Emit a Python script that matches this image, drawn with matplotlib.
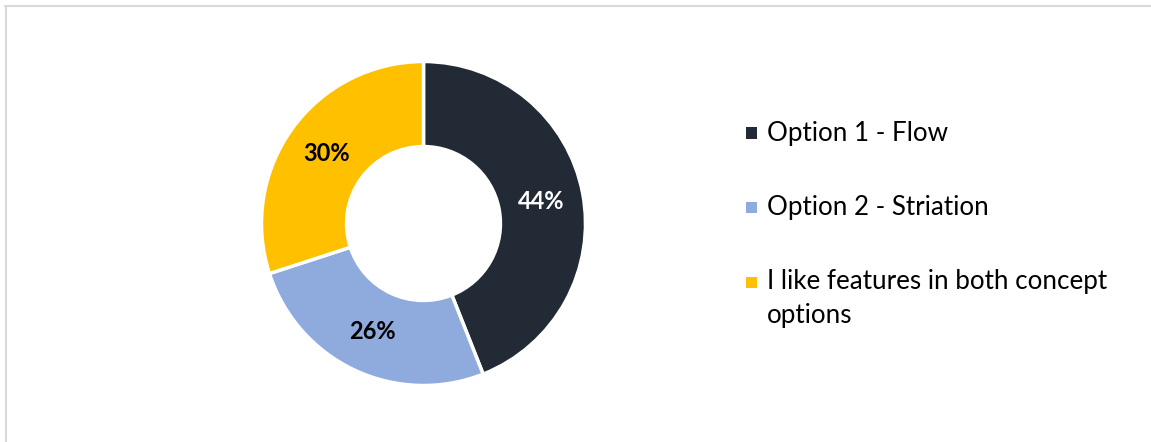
import matplotlib
matplotlib.use("Agg")
import matplotlib.pyplot as plt
from matplotlib.lines import Line2D
from matplotlib.patches import Rectangle

# survey answers
labels = ["Option 1 - Flow", "Option 2 - Striation",
          "I like features in both concept\noptions"]
shares = [44, 26, 30]
colors = ["#222a35", "#8faadc", "#ffc000"]
label_colors = ["white", "black", "black"]

W, H = 1151, 442
fig = plt.figure(figsize=(W / 100, H / 100), dpi=100)
plt.rcParams['font.family'] = ['Lato', 'DejaVu Sans']

# donut placed by pixel centre/radius
cx, cy, r = 423.5, 223.5, 162
ax = fig.add_axes([(cx - r) / W, (H - cy - r) / H, 2 * r / W, 2 * r / H])
wedges, _, autotexts = ax.pie(
    shares, colors=colors, startangle=90, counterclock=False, radius=1,
    autopct=lambda p: f"{p:.0f}%", pctdistance=0.74,
    wedgeprops=dict(width=0.525, edgecolor="white", linewidth=2.5),
)
for t, c in zip(autotexts, label_colors):
    t.set_color(c)
    t.set_fontsize(17)
    t.set_fontweight("bold")
ax.set_xlim(-1, 1)
ax.set_ylim(-1, 1)
ax.set_aspect("equal")
ax.axis("off")

# legend drawn by hand so the marker sits beside the first line
baselines = [140.5, 215, 289.5]
line_gap = 34
for lab, col, y in zip(labels, colors, baselines):
    fig.patches.append(Rectangle((746 / W, (H - y + 2) / H), 10.5 / W, 11 / H,
                                 facecolor=col, transform=fig.transFigure))
    for i, line in enumerate(lab.split("\n")):
        fig.text(767 / W, (H - y - i * line_gap) / H, line, fontsize=18.7,
                 va="baseline", ha="left")

# chart frame (top and left edges)
fig.add_artist(Line2D([5 / W, 1], [1 - 5.5 / H, 1 - 5.5 / H], color="#d9d9d9",
                      lw=1.5, transform=fig.transFigure))
fig.add_artist(Line2D([5.5 / W, 5.5 / W], [0, 1 - 5.5 / H], color="#d9d9d9",
                      lw=1.5, transform=fig.transFigure))

fig.savefig("out.png", dpi=100, facecolor="white")
